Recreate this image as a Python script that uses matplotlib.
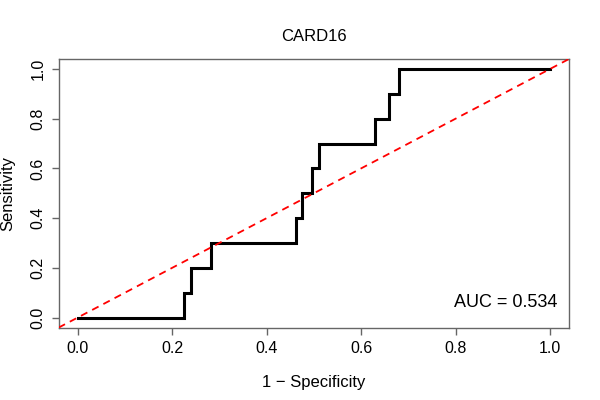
import matplotlib
matplotlib.use("Agg")
import matplotlib.pyplot as plt

# ROC data
fpr = [0.0, 0.226, 0.241, 0.282, 0.462, 0.476, 0.496, 0.511, 0.630, 0.659, 0.680, 1.0]
tpr = [0.0, 0.1, 0.2, 0.3, 0.4, 0.5, 0.6, 0.7, 0.8, 0.9, 1.0, 1.0]
title = "CARD16"
auc_text = "AUC = 0.534"
ticks = [0.0, 0.2, 0.4, 0.6, 0.8, 1.0]
tick_labels = ["0.0", "0.2", "0.4", "0.6", "0.8", "1.0"]

plt.rcParams['font.family'] = ['Liberation Sans', 'DejaVu Sans']

fig = plt.figure(figsize=(6, 4), dpi=100)
ax = fig.add_axes([0.0977, 0.181, 0.8506, 0.6715])

ax.step(fpr, tpr, where='post', color='black', lw=2.2, solid_joinstyle='miter', zorder=3)
ax.axline((0, 0), (1, 1), color='red', lw=1.3, linestyle=(0, (4, 3)), zorder=4)

ax.set_xlim(-0.04, 1.04)
ax.set_ylim(-0.04, 1.04)
ax.set_xticks(ticks)
ax.set_xticklabels(tick_labels)
ax.set_yticks(ticks)
ax.set_yticklabels(tick_labels, rotation=90, va='center')

for s in ax.spines.values():
    s.set_color('#666666')
    s.set_linewidth(1.0)
ax.tick_params(axis='both', length=5, width=1.0, color='#666666', labelsize=11.5, pad=4.5)

ax.set_xlabel("1 \u2212 Specificity", fontsize=12, va='center')
ax.set_ylabel("Sensitivity", fontsize=12, va='center')
ax.xaxis.set_label_coords(0.5, -0.203)
ax.yaxis.set_label_coords(-0.099, 0.5)
ax.text(0.5, 1.082, title, transform=ax.transAxes, ha='center', va='center', fontsize=12)

ax.text(0.978, 0.095, auc_text, transform=ax.transAxes, ha='right', va='center', fontsize=13)

fig.savefig("out.png", dpi=100)
